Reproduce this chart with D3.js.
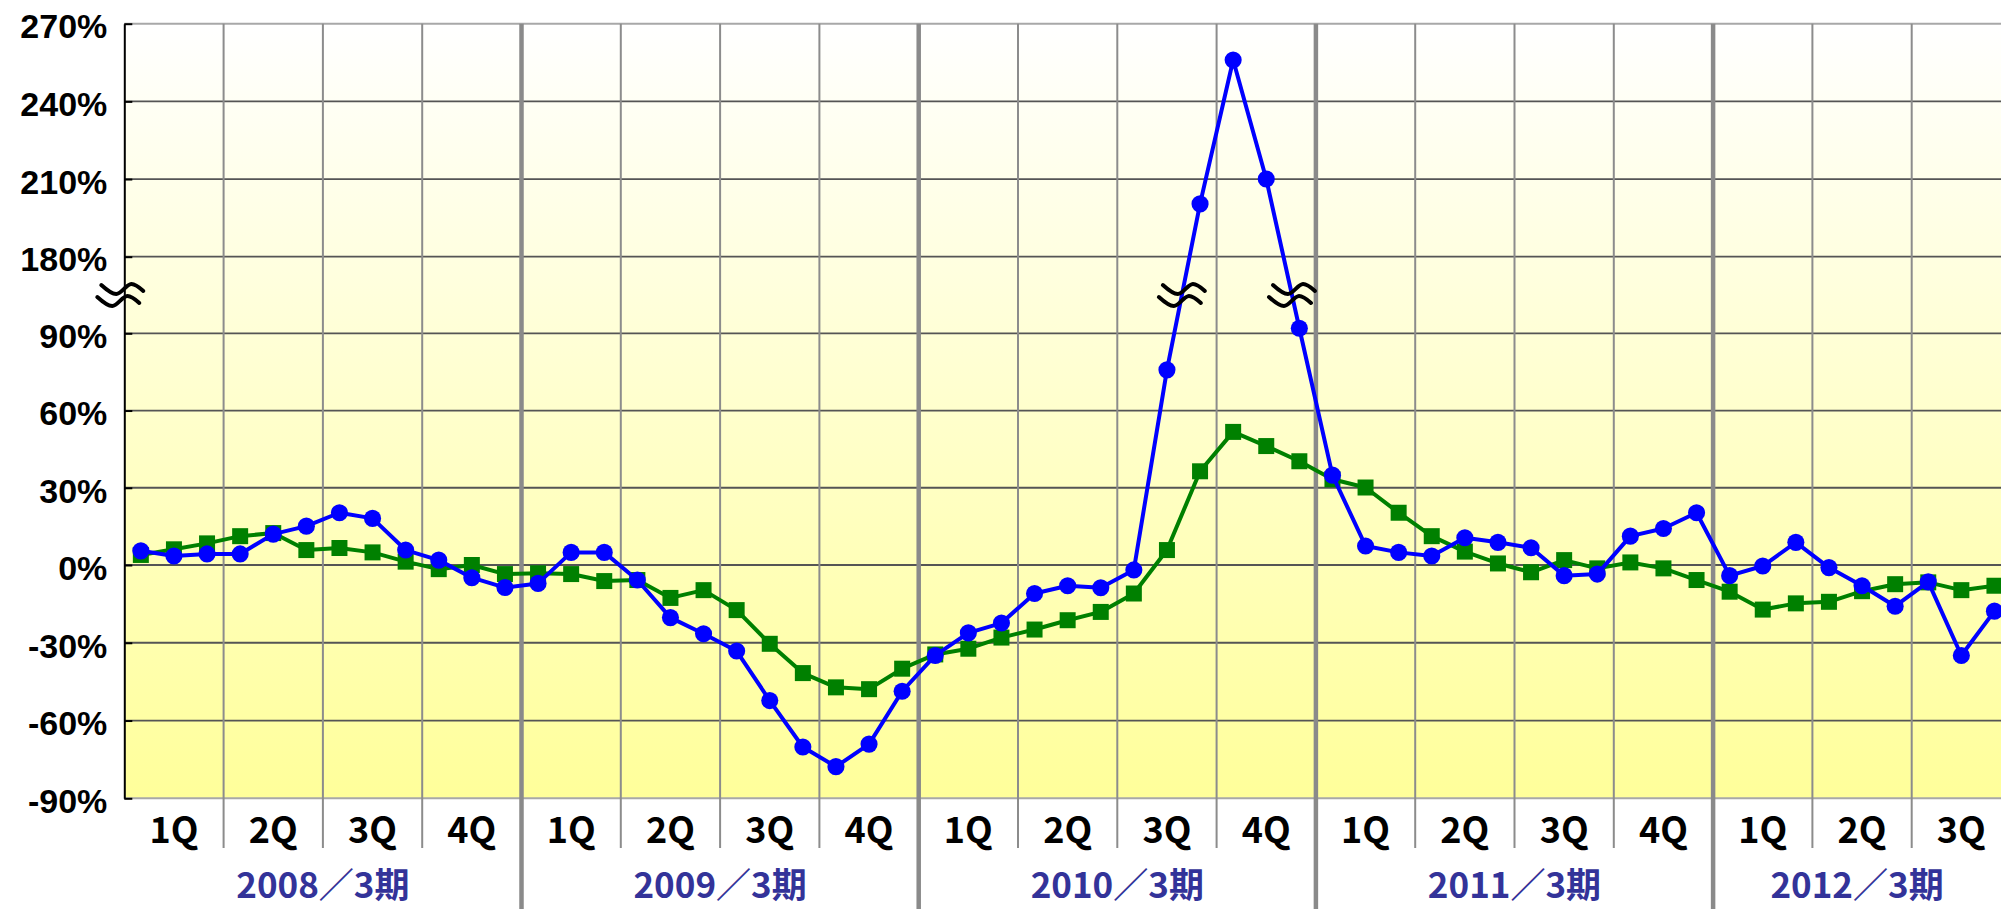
<!DOCTYPE html>
<html>
<head>
<meta charset="utf-8">
<script src="https://cdn.jsdelivr.net/npm/d3@7"></script>
<style>
  html, body { margin: 0; padding: 0; background: #ffffff; }
  svg { display: block; font-family: "Noto Sans CJK JP", "Noto Sans", sans-serif; }
</style>
</head>
<body>
<svg id="chart"></svg>
<script>
// fiscal years and quarters on the x axis
const years = ['2008／3期', '2009／3期', '2010／3期', '2011／3期', '2012／3期'];
const quarters = ['1Q', '2Q', '3Q', '4Q'];
const monthsPerYear = 12;

// y axis ticks (axis is broken between 90% and 180%)
const yTicks = [-90, -60, -30, 0, 30, 60, 90, 180, 210, 240, 270];

// monthly values, % (blue = circles, green = squares)
const blueValues = [
  5.5, 3.5, 4.3, 4.3, 12.0, 15.1, 20.3, 18.1, 5.8, 1.9, -4.9, -8.7,
  -7.1, 4.9, 4.9, -5.8, -20.3, -26.5, -33.2, -52.3, -70.2, -77.8, -69.1, -48.7,
  -34.9, -26.2, -22.4, -11.0, -8.0, -8.8, -1.9, 75.8, 200.4, 256, 210, 96,
  34.9, 7.4, 4.9, 3.5, 10.6, 8.8, 6.7, -4.1, -3.5, 11.2, 14.2, 20.3,
  -4.1, -0.4, 8.8, -1.0, -8.0, -15.9, -6.5, -34.9, -17.8
];
const greenValues = [
  3.9, 6.1, 8.4, 11.2, 12.4, 5.8, 6.6, 4.9, 1.3, -1.6, 0.0, -3.5,
  -3.2, -3.5, -6.2, -5.8, -12.7, -9.7, -17.4, -30.4, -41.7, -47.2, -47.9, -40.0,
  -34.5, -32.3, -28.0, -24.9, -21.3, -18.1, -11.0, 5.8, 36.4, 51.7, 46.2, 40.3,
  33.3, 30.1, 20.3, 11.2, 5.2, 0.6, -2.8, 1.9, -1.3, 1.0, -1.3, -5.8,
  -10.3, -17.2, -14.8, -14.2, -10.1, -7.4, -6.7, -9.7, -8.0
];

var width = 2001;
var height = 909;
var margin = { top: 23.7, left: 124.3, bottom: 798.3 };
var monthWidth = 33.1;

var svg = d3.select('#chart')
  .attr('width', width)
  .attr('height', height);

///////////////////////////////////////////////////////////////
// scales
var months = d3.range(years.length * monthsPerYear);

var x = d3.scaleBand()
  .domain(months)
  .range([margin.left, margin.left + months.length * monthWidth])
  .padding(0);

// piecewise scale for the broken axis
var y = d3.scaleLinear()
  .domain([-90, 0, 90, 180, 270])
  .range([margin.bottom, 565, 333.3, 256.7, margin.top]);

var xRight = x.range()[1];

///////////////////////////////////////////////////////////////
// background gradient
var grad = svg.append('defs').append('linearGradient')
  .attr('id', 'bg')
  .attr('x1', 0).attr('y1', 0).attr('x2', 0).attr('y2', 1);
grad.append('stop').attr('offset', '0%').attr('stop-color', '#ffffff');
grad.append('stop').attr('offset', '100%').attr('stop-color', '#ffff9a');

svg.append('rect')
  .attr('x', margin.left)
  .attr('y', margin.top)
  .attr('width', xRight - margin.left)
  .attr('height', margin.bottom - margin.top)
  .attr('fill', 'url(#bg)');

///////////////////////////////////////////////////////////////
// grid
svg.append('g')
  .selectAll('line')
  .data(yTicks)
  .join('line')
    .attr('x1', margin.left)
    .attr('x2', xRight)
    .attr('y1', d => y(d))
    .attr('y2', d => y(d))
    .attr('stroke', d => (d === 270 || d === -90) ? '#a8a8a8' : '#555555')
    .attr('stroke-width', d => (d === 270 || d === -90) ? 2 : 1.8);

// quarter lines (every 3 months, not on year boundaries)
var quarterStarts = months.filter(m => m % 3 === 0 && m % 12 !== 0);
svg.append('g')
  .selectAll('line')
  .data(quarterStarts)
  .join('line')
    .attr('x1', d => x(d))
    .attr('x2', d => x(d))
    .attr('y1', margin.top)
    .attr('y2', 848)
    .attr('stroke', '#8c8c8c')
    .attr('stroke-width', 2);

// year lines
var yearStarts = d3.range(1, years.length).map(i => i * monthsPerYear);
svg.append('g')
  .selectAll('line')
  .data(yearStarts)
  .join('line')
    .attr('x1', d => x(d))
    .attr('x2', d => x(d))
    .attr('y1', margin.top)
    .attr('y2', height)
    .attr('stroke', '#8a8a8a')
    .attr('stroke-width', 4.5);

///////////////////////////////////////////////////////////////
// y axis
var yAxis = svg.append('g')
  .attr('transform', 'translate(' + margin.left + ',0)')
  .call(d3.axisLeft(y)
    .tickValues(yTicks)
    .tickFormat(d => d + '%')
    .tickSizeInner(-8)
    .tickSizeOuter(0)
    .tickPadding(17));

yAxis.select('.domain').attr('stroke', '#000').attr('stroke-width', 2);
yAxis.selectAll('.tick line').attr('stroke', '#000').attr('stroke-width', 2);
yAxis.selectAll('.tick text')
  .attr('fill', '#000')
  .attr('dy', '0.42em')
  .style('font-size', '34px')
  .style('font-weight', 'bold');

///////////////////////////////////////////////////////////////
// x labels: quarters and fiscal years
var quarterLabels = [];
years.forEach((yr, i) => {
  quarters.forEach((q, j) => {
    quarterLabels.push({ label: q, start: i * 12 + j * 3 });
  });
});
// only the quarters that fit in the picture
quarterLabels = quarterLabels.filter(d => x(d.start) + x.bandwidth() * 1.5 + 30 < width);

svg.append('g')
  .selectAll('text')
  .data(quarterLabels)
  .join('text')
    .attr('x', d => (x(d.start) + x(d.start + 2) + x.bandwidth()) / 2)
    .attr('y', 843)
    .attr('text-anchor', 'middle')
    .style('font-size', '36px')
    .style('font-weight', 'bold')
    .attr('fill', '#000')
    .text(d => d.label);

svg.append('g')
  .selectAll('text')
  .data(years)
  .join('text')
    .attr('x', (d, i) => {
      var a = x(i * 12);
      var b = Math.min(x(i * 12 + 11) + x.bandwidth(), width);
      return (a + b) / 2;
    })
    .attr('y', 898)
    .attr('text-anchor', 'middle')
    .style('font-size', '35px')
    .style('font-weight', 'bold')
    .attr('fill', '#333399')
    .text(d => d);

///////////////////////////////////////////////////////////////
// series
function drawSeries(values, color, shape) {
  var line = d3.line()
    .x((d, i) => x(i) + x.bandwidth() / 2)
    .y(d => y(d));

  svg.append('path')
    .datum(values)
    .attr('fill', 'none')
    .attr('stroke', color)
    .attr('stroke-width', 4)
    .attr('stroke-linejoin', 'round')
    .attr('d', line);

  var sym = d3.symbol().type(shape).size(shape === d3.symbolSquare ? 256 : 230);
  svg.append('g')
    .selectAll('path')
    .data(values)
    .join('path')
      .attr('transform', (d, i) => 'translate(' + (x(i) + x.bandwidth() / 2) + ',' + y(d) + ')')
      .attr('d', sym)
      .attr('fill', color);
}

drawSeries(greenValues, '#008000', d3.symbolSquare);
drawSeries(blueValues, '#0000ff', d3.symbolCircle);

///////////////////////////////////////////////////////////////
// break marks: on the axis, and where the blue line crosses the gap
var breakLevel = 135;
var breakY = y(breakLevel);
var breakMarks = [{ x: margin.left - 4, y: breakY }];
for (var i = 1; i < blueValues.length; i++) {
  var a = blueValues[i - 1], b = blueValues[i];
  if ((a - breakLevel) * (b - breakLevel) < 0) {
    var xa = x(i - 1) + x.bandwidth() / 2, xb = x(i) + x.bandwidth() / 2;
    var ya = y(a), yb = y(b);
    var t = (breakY - ya) / (yb - ya);
    breakMarks.push({ x: xa + t * (xb - xa), y: breakY });
  }
}

var wave = d3.line().curve(d3.curveCatmullRom.alpha(0.5));
var upper = [[-19, -10], [-4, -1], [11, -11], [23, -4]];
var lower = upper.map(p => [p[0] - 4, p[1] + 12]);

var marks = svg.append('g')
  .selectAll('g')
  .data(breakMarks)
  .join('g')
    .attr('transform', d => 'translate(' + d.x + ',' + d.y + ')');

marks.append('path').attr('d', wave(upper));
marks.append('path').attr('d', wave(lower));
marks.selectAll('path')
  .attr('fill', 'none')
  .attr('stroke', '#000')
  .attr('stroke-width', 4)
  .attr('stroke-linecap', 'round');
</script>
</body>
</html>
